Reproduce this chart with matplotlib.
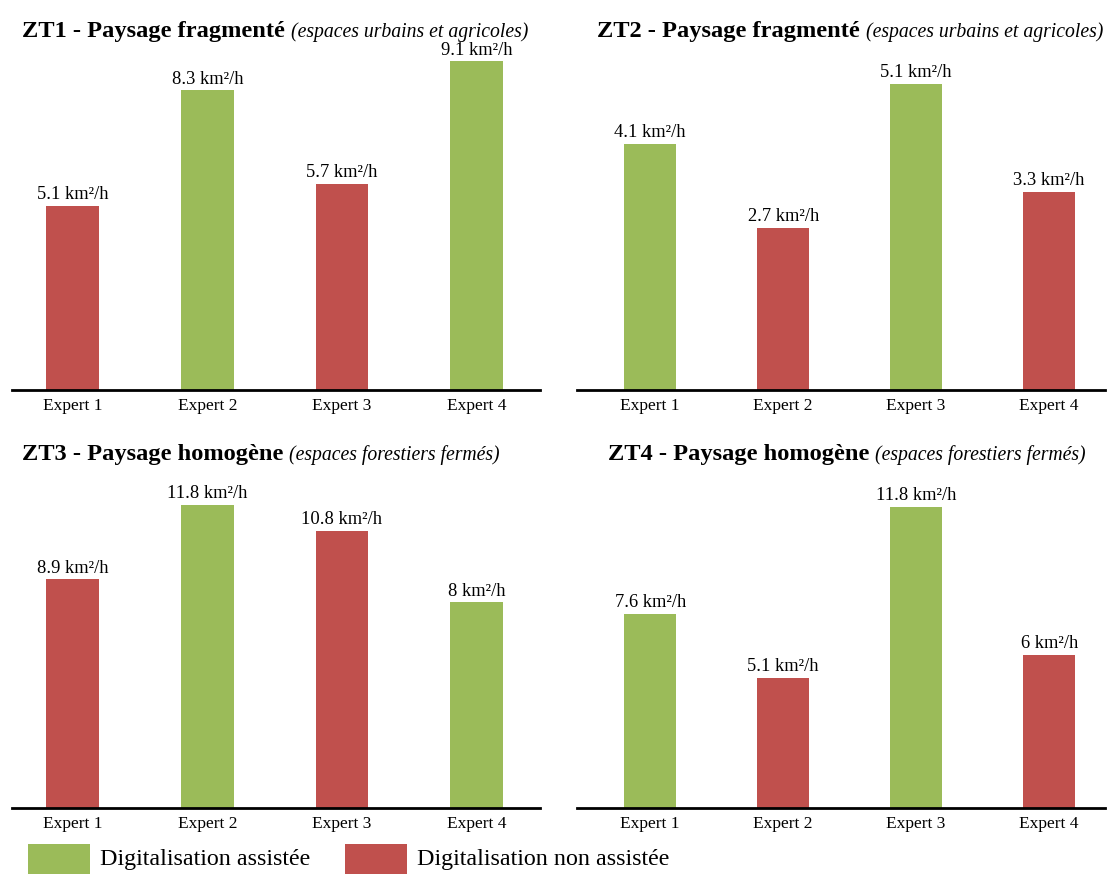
import matplotlib

matplotlib.use("Agg")
import matplotlib.pyplot as plt  # noqa: E402
from matplotlib.patches import Rectangle  # noqa: E402

# --- data -------------------------------------------------------------------
experts = ["Expert 1", "Expert 2", "Expert 3", "Expert 4"]
zt1_values = [5.1, 8.3, 5.7, 9.1]
zt2_values = [4.1, 2.7, 5.1, 3.3]
zt3_values = [8.9, 11.8, 10.8, 8.0]
zt4_values = [7.6, 5.1, 11.8, 6.0]
# True = assisted digitalisation (green), False = not assisted (red)
zt1_assisted = [False, True, False, True]
zt2_assisted = [True, False, True, False]
zt3_assisted = [False, True, False, True]
zt4_assisted = [True, False, True, False]
titles_bold = ["ZT1 - Paysage fragmenté", "ZT2 - Paysage fragmenté",
               "ZT3 - Paysage homogène", "ZT4 - Paysage homogène"]
titles_ital = ["(espaces urbains et agricoles)", "(espaces urbains et agricoles)",
               "(espaces forestiers fermés)", "(espaces forestiers fermés)"]
legend_labels = ["Digitalisation assistée", "Digitalisation non assistée"]

GREEN = "#9BBB59"
RED = "#C0504D"
W, H = 1111, 874

plt.rcParams["font.family"] = ["Liberation Serif", "DejaVu Serif"]

fig = plt.figure(figsize=(W / 100, H / 100), dpi=100)


def px_axes(x0, x1, ytop, ybot):
    return fig.add_axes([x0 / W, 1 - ybot / H, (x1 - x0) / W, (ybot - ytop) / H])


panels = [
    # values, assisted, axes box (px), ylim top, xlim
    (zt1_values, zt1_assisted, (12, 540, 55, 390), 9.28, (-0.45, 3.47)),
    (zt2_values, zt2_assisted, (577, 1105, 55, 390), 5.58, (-0.55, 3.42)),
    (zt3_values, zt3_assisted, (12, 540, 475, 808), 12.96, (-0.45, 3.47)),
    (zt4_values, zt4_assisted, (577, 1105, 475, 808), 13.05, (-0.55, 3.42)),
]

for vals, assisted, box, ytop, xlim in panels:
    ax = px_axes(*box)
    colors = [GREEN if a else RED for a in assisted]
    bars = ax.bar(range(len(vals)), vals, width=0.39, color=colors)
    ax.bar_label(bars, labels=[f"{v:g} km²/h" for v in vals], padding=2, fontsize=13.3)
    ax.set_ylim(0, ytop)
    ax.set_xlim(*xlim)
    ax.set_xticks(range(len(experts)))
    ax.set_xticklabels(experts, fontsize=12.5)
    ax.tick_params(axis="x", length=0, pad=6)
    ax.set_yticks([])
    for side in ("top", "left", "right"):
        ax.spines[side].set_visible(False)
    ax.spines["bottom"].set_linewidth(2)
    ax.patch.set_visible(False)

# titles: bold part followed by a smaller italic part
renderer = fig.canvas.get_renderer()
title_pos = [(22, 37), (597, 37), (22, 460), (608, 460)]
for (x, y), tb, ti in zip(title_pos, titles_bold, titles_ital):
    t = fig.text(x / W, 1 - y / H, tb, fontsize=17.6, fontweight="bold", va="baseline")
    bb = t.get_window_extent(renderer)
    fig.text((bb.x1 + 6) / W, 1 - y / H, ti, fontsize=14.2, style="italic", va="baseline")

# legend
for (x, col), lbl in zip([(28, GREEN), (345, RED)], legend_labels):
    fig.add_artist(Rectangle((x / W, 0), 62 / W, 30 / H, transform=fig.transFigure,
                             color=col, lw=0))
    fig.text((x + 72) / W, 1 - 860 / H, lbl, fontsize=17.3, va="center")

fig.savefig("out.png", dpi=100)
